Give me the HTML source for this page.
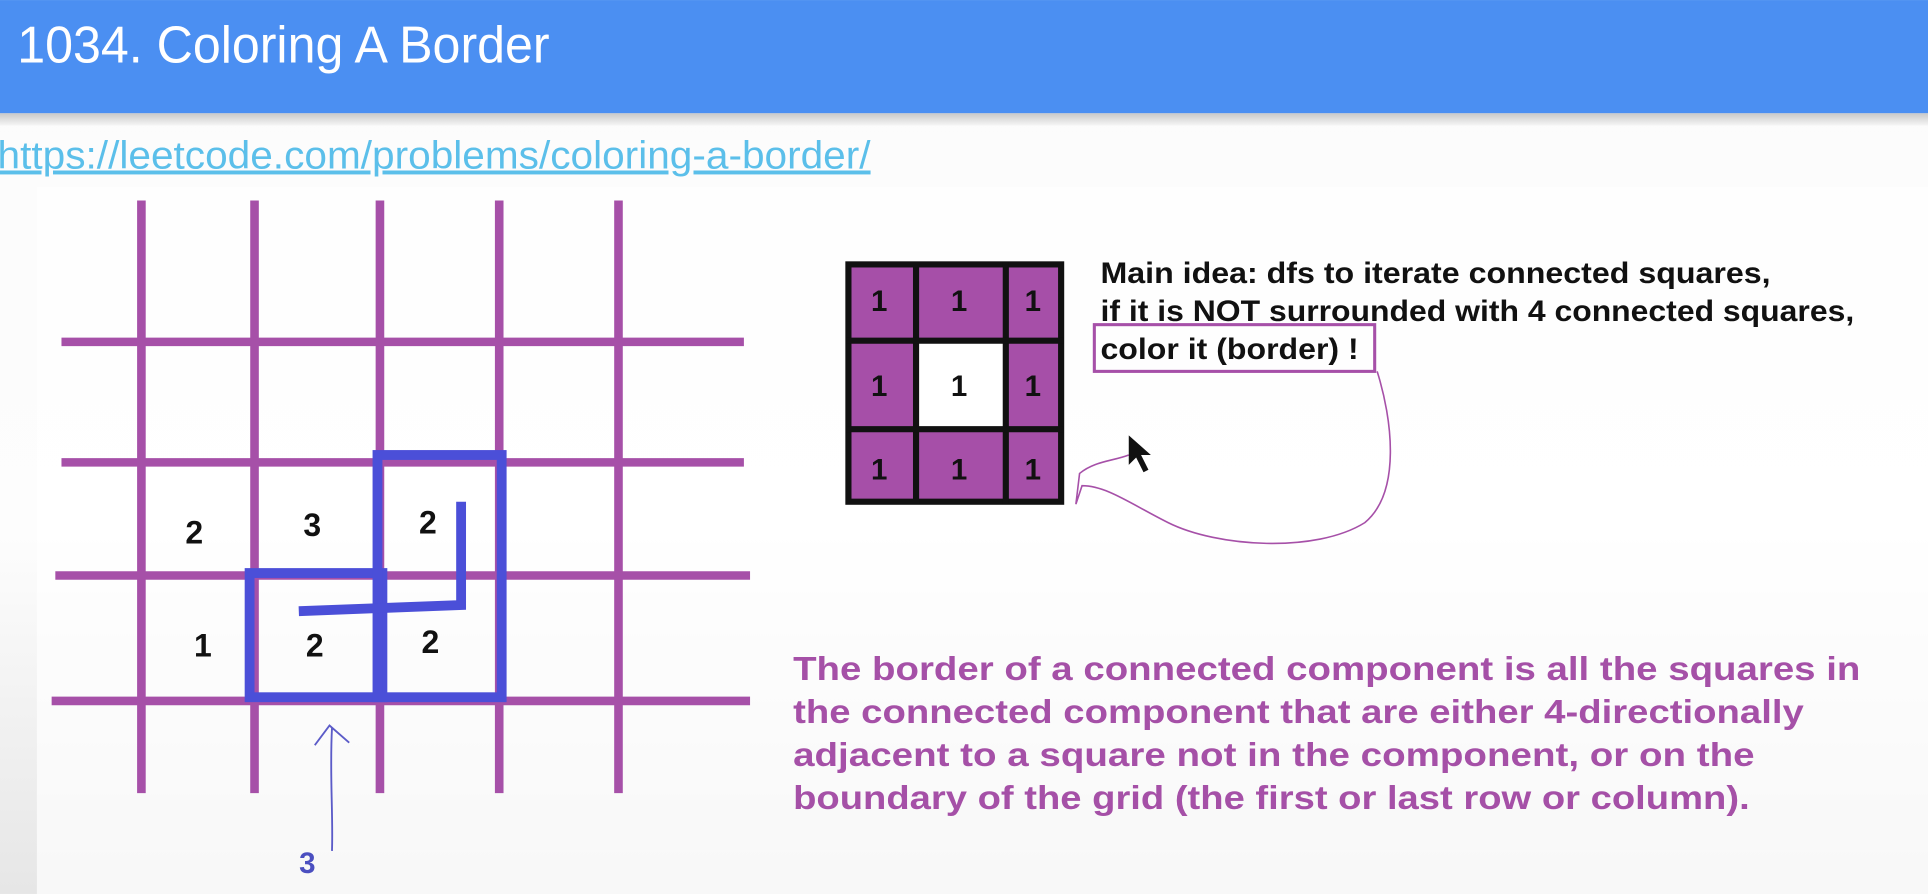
<!DOCTYPE html>
<html><head><meta charset="utf-8"><style>
html,body{margin:0;padding:0;width:1928px;height:894px;overflow:hidden;background:#fff}
svg{display:block}
text{font-family:"Liberation Sans",Arial,sans-serif}
</style></head><body>
<svg width="1928" height="894" viewBox="0 0 1568 727">
<defs>
<linearGradient id="bg" x1="0" y1="0" x2="0" y2="1">
<stop offset="0" stop-color="#fbfbfb"/><stop offset="0.6" stop-color="#fdfdfd"/><stop offset="1" stop-color="#e6e6e6"/>
</linearGradient>
<linearGradient id="sh" x1="0" y1="0" x2="0" y2="1">
<stop offset="0" stop-color="#c8c8c8"/><stop offset="1" stop-color="#f6f6f6"/>
</linearGradient>
</defs>
<rect width="1568" height="727" fill="url(#bg)"/>
<rect y="92" width="1568" height="10" fill="url(#sh)"/>
<rect x="30" y="152" width="1538" height="575" fill="#ffffff" opacity="0.7"/>
<rect width="1568" height="92" fill="#4b8ff2"/>
<text x="14" y="51" font-size="42" fill="#fff" textLength="433" lengthAdjust="spacingAndGlyphs">1034. Coloring A Border</text>
<text x="-2" y="137" font-size="32" fill="#5bbfea" text-decoration="underline" textLength="710" lengthAdjust="spacingAndGlyphs">https://leetcode.com/problems/coloring-a-border/</text>

<g stroke="#a650a8" stroke-width="7">
<line x1="115" y1="163" x2="115" y2="645"/><line x1="207" y1="163" x2="207" y2="645"/>
<line x1="309" y1="163" x2="309" y2="645"/><line x1="406" y1="163" x2="406" y2="645"/>
<line x1="503" y1="163" x2="503" y2="645"/>
<line x1="50" y1="278" x2="605" y2="278"/><line x1="50" y1="376" x2="605" y2="376"/>
<line x1="45" y1="468" x2="610" y2="468"/><line x1="42" y1="570" x2="610" y2="570"/>
</g>
<g fill="none" stroke="#4b4fd8" stroke-width="8">
<rect x="203" y="466" width="108" height="101"/>
<rect x="307" y="370" width="101" height="197"/>
<polyline points="375,408 375,492 243,497"/>
</g>
<g font-size="26" font-weight="bold" fill="#111" text-anchor="middle">
<text x="158" y="442">2</text><text x="254" y="436">3</text><text x="348" y="434">2</text>
<text x="165" y="534">1</text><text x="256" y="534">2</text><text x="350" y="531">2</text>
</g>
<path d="M270,692 C271,660 268,630 270,592 M256,606 L268,590 L284,604" fill="none" stroke="#5b5bc8" stroke-width="1.5"/>
<text x="250" y="710" font-size="24" font-weight="bold" fill="#4b4fc0" text-anchor="middle">3</text>

<g>
<rect x="688" y="213" width="177" height="197" fill="#a64fa8"/>
<rect x="745" y="277" width="73" height="72" fill="#fff"/>
<g stroke="#111" stroke-width="5" fill="none">
<rect x="690" y="215" width="173" height="193"/>
<line x1="745" y1="213" x2="745" y2="410"/><line x1="818" y1="213" x2="818" y2="410"/>
<line x1="688" y1="277" x2="865" y2="277"/><line x1="688" y1="349" x2="865" y2="349"/>
</g>
<g font-size="24" font-weight="bold" fill="#111" text-anchor="middle">
<text x="715" y="253">1</text><text x="780" y="253">1</text><text x="840" y="253">1</text>
<text x="715" y="322">1</text><text x="780" y="322">1</text><text x="840" y="322">1</text>
<text x="715" y="390">1</text><text x="780" y="390">1</text><text x="840" y="390">1</text>
</g>
</g>
<g font-size="24" font-weight="bold" fill="#111">
<text x="895" y="230" textLength="545" lengthAdjust="spacingAndGlyphs">Main idea: dfs to iterate connected squares,</text>
<text x="895" y="261" textLength="613" lengthAdjust="spacingAndGlyphs">if it is NOT surrounded with 4 connected squares,</text>
<text x="895" y="292" textLength="210" lengthAdjust="spacingAndGlyphs">color it (border) !</text>
</g>
<rect x="890" y="264" width="228" height="38" fill="none" stroke="#a650a8" stroke-width="2.5"/>
<path d="M1120,302 C1132,340 1140,400 1110,425 C1070,450 990,445 950,425 C920,410 900,395 880,395 L875,410 L878,385 C890,375 905,375 918,370" fill="none" stroke="#a650a8" stroke-width="1.3"/>
<path d="M918,354 L918,378 L924,372 L930,384 L934,382 L928,370 L936,370 Z" fill="#111"/>
<g font-size="27" font-weight="bold" fill="#a550a7">
<text x="645" y="553" textLength="868" lengthAdjust="spacingAndGlyphs">The border of a connected component is all the squares in</text>
<text x="645" y="588" textLength="822" lengthAdjust="spacingAndGlyphs">the connected component that are either 4-directionally</text>
<text x="645" y="623" textLength="782" lengthAdjust="spacingAndGlyphs">adjacent to a square not in the component, or on the</text>
<text x="645" y="658" textLength="778" lengthAdjust="spacingAndGlyphs">boundary of the grid (the first or last row or column).</text>
</g>
</svg>
</body></html>
